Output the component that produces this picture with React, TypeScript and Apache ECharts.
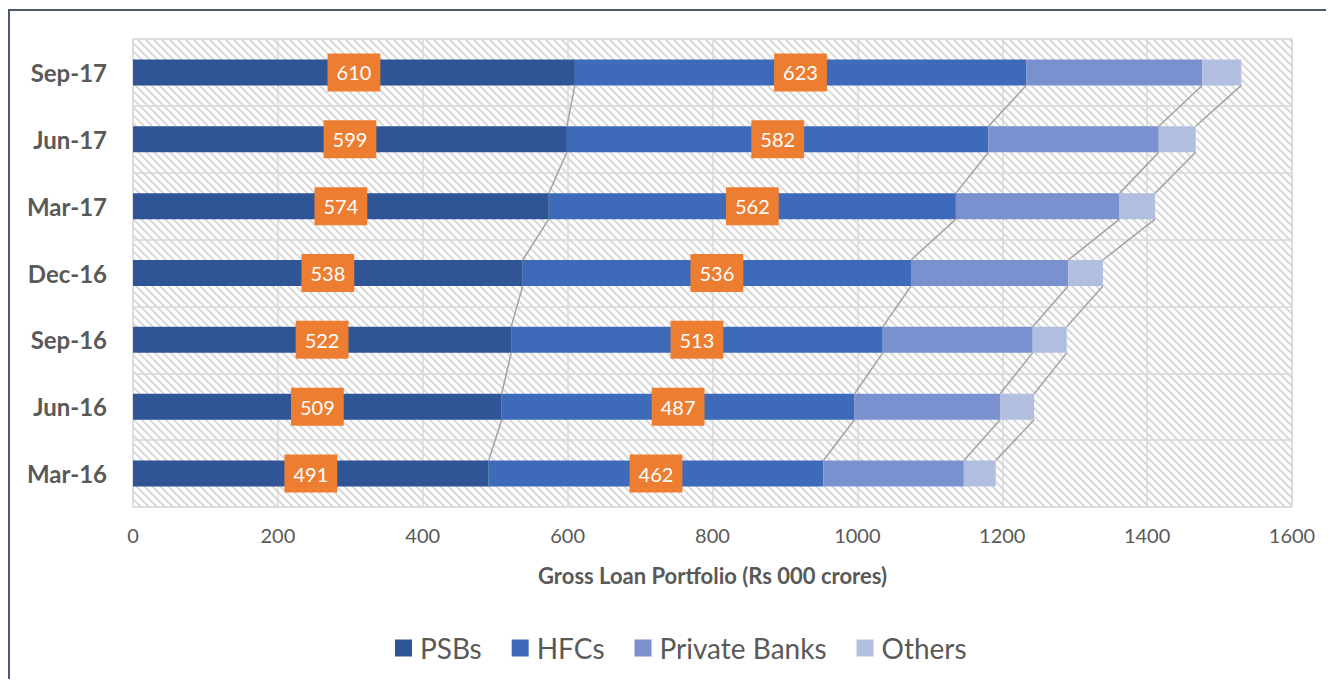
import React, { useEffect, useRef } from "react";
import * as echarts from "echarts";

// Quarters, bottom to top
const quarters = ["Mar-16", "Jun-16", "Sep-16", "Dec-16", "Mar-17", "Jun-17", "Sep-17"];

// Gross loan portfolio by lender type (Rs 000 crores)
const psbs = [491, 509, 522, 538, 574, 599, 610];
const hfcs = [462, 487, 513, 536, 562, 582, 623];
const privateBanks = [194, 201, 207, 217, 226, 235, 243];
const others = [44, 47, 47, 48, 49, 51, 54];

const seriesNames = ["PSBs", "HFCs", "Private Banks", "Others"];
const seriesColors = ["#2f5597", "#3e6bb9", "#7991cf", "#b2bee0"];

const xTicks = { min: 0, max: 1600, interval: 200 };

const FONT = "Lato, 'Noto Sans', sans-serif";
const TEXT_GRAY = "#595959";
const BAR_WIDTH = 26;

export default function App() {
  const ref = useRef<HTMLDivElement>(null);

  useEffect(() => {
    if (!ref.current) return;
    const chart = echarts.init(ref.current, undefined, { renderer: "svg" });

    const stacks = [psbs, hfcs, privateBanks, others];

    // cumulative end of each segment, per quarter
    const cumulative: number[][] = [];
    stacks.forEach((arr, s) => {
      cumulative.push(arr.map((v, i) => (s === 0 ? v : cumulative[s - 1][i] + v)));
    });

    // connector data: [lower quarter index, end at lower, end at upper]
    const connectorData: number[][] = [];
    cumulative.forEach((ends) => {
      for (let i = 0; i < ends.length - 1; i++) {
        connectorData.push([i, ends[i], ends[i + 1]]);
      }
    });

    const barSeries = stacks.map((arr, s) => ({
      name: seriesNames[s],
      type: "bar",
      stack: "total",
      barWidth: BAR_WIDTH,
      data: arr,
      z: 3,
      itemStyle: { color: seriesColors[s] },
      label:
        s < 2
          ? {
              show: true,
              position: "inside",
              color: "#ffffff",
              fontFamily: FONT,
              fontSize: 20,
              lineHeight: 24,
              backgroundColor: "#ed7d31",
              padding: [7, 9, 7, 9],
            }
          : { show: false },
    }));

    chart.setOption({
      animation: false,
      textStyle: { fontFamily: FONT },
      graphic: [
        {
          type: "rect",
          silent: true,
          shape: { x: 1, y: 2, width: 3000, height: 3000 },
          style: { fill: "none", stroke: "#4a5870", lineWidth: 2 },
        },
      ],
      grid: {
        left: 125,
        top: 31,
        width: 1159,
        height: 468,
        show: true,
        borderColor: "#d9d9d9",
        borderWidth: 1,
        backgroundColor: "transparent",
      },
      legend: {
        left: 382,
        top: 621,
        icon: "rect",
        itemWidth: 17,
        itemHeight: 17,
        itemGap: 30,
        data: seriesNames,
        textStyle: { color: TEXT_GRAY, fontSize: 28, fontFamily: FONT, padding: [0, 0, 0, 3] },
      },
      xAxis: {
        type: "value",
        min: xTicks.min,
        max: xTicks.max,
        interval: xTicks.interval,
        name: "Gross Loan Portfolio (Rs 000 crores)",
        nameLocation: "middle",
        nameGap: 57,
        nameTextStyle: { color: TEXT_GRAY, fontSize: 22, fontWeight: "bold", fontFamily: FONT },
        axisLine: { show: false },
        axisTick: { show: false },
        axisLabel: {
          color: TEXT_GRAY,
          fontSize: 20,
          margin: 18,
          fontFamily: FONT,
          formatter: (v: number) => String(v),
        },
        splitLine: { show: true, lineStyle: { color: "#d9d9d9", width: 1.5 } },
      },
      yAxis: {
        type: "category",
        data: quarters,
        axisLine: { show: false },
        axisTick: { show: false },
        axisLabel: {
          color: TEXT_GRAY,
          fontSize: 24,
          fontWeight: "bold",
          margin: 26,
          fontFamily: FONT,
        },
        splitLine: { show: true, interval: 0, lineStyle: { color: "#d9d9d9", width: 1.5 } },
      },
      series: [
        {
          // hatched plot-area fill
          type: "custom",
          silent: true,
          z: 1,
          encode: { x: 0, y: 1 },
          data: [[0, 0]],
          renderItem: (params: any) => {
            const cs = params.coordSys;
            const x0 = cs.x, x1 = cs.x + cs.width, y0 = cs.y, y1 = cs.y + cs.height;
            const step = 8;
            const children: any[] = [];
            for (let c = x0 - y1; c <= x1 - y0; c += step) {
              const lo = Math.max(y0, x0 - c);
              const hi = Math.min(y1, x1 - c);
              if (hi > lo) {
                children.push({
                  type: "line",
                  shape: { x1: lo + c, y1: lo, x2: hi + c, y2: hi },
                  style: { stroke: "#d9d9d9", lineWidth: 2 },
                });
              }
            }
            return { type: "group", children };
          },
        },
        ...barSeries,
        {
          // series lines joining segment ends between consecutive quarters
          type: "custom",
          silent: true,
          z: 4,
          encode: { x: 1, y: 0 },
          data: connectorData,
          renderItem: (_params: any, api: any) => {
            const i = api.value(0);
            const a = api.value(1);
            const b = api.value(2);
            const p1 = api.coord([a, i]);
            const p2 = api.coord([b, i + 1]);
            const half = BAR_WIDTH / 2;
            return {
              type: "line",
              shape: { x1: p1[0], y1: p1[1] - half, x2: p2[0], y2: p2[1] + half },
              style: { stroke: "#a3a3a3", lineWidth: 1.5 },
            };
          },
        },
      ],
    });

    return () => chart.dispose();
  }, []);

  return <div ref={ref} style={{ width: 1318, height: 671 }} />;
}
